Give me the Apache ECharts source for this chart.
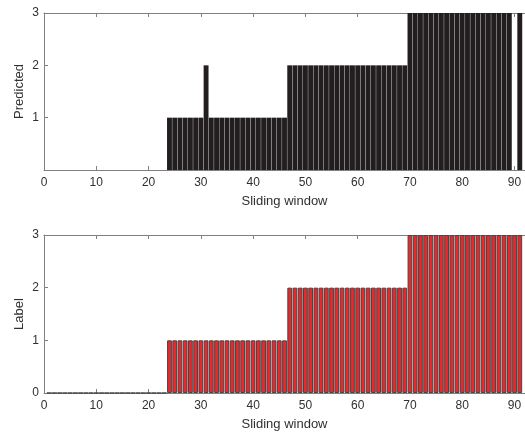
<!DOCTYPE html>
<html lang="en">
<head>
	<meta charset="UTF-8">
	<title>Predicted vs Label</title>
	<script src="https://cdn.jsdelivr.net/npm/echarts@6/dist/echarts.min.js"></script>
	<style>
		html, body { margin: 0; padding: 0; background: #fff; }
	</style>
</head>
<body>
	<div id="main" style="width: 525px;height: 433px;"></div>

	<script type="text/javascript">
		// sliding window index (x)
		var windows = [1,2,3,4,5,6,7,8,9,10,11,12,13,14,15,16,17,18,19,20,
			21,22,23,24,25,26,27,28,29,30,31,32,33,34,35,36,37,38,39,40,
			41,42,43,44,45,46,47,48,49,50,51,52,53,54,55,56,57,58,59,60,
			61,62,63,64,65,66,67,68,69,70,71,72,73,74,75,76,77,78,79,80,
			81,82,83,84,85,86,87,88,89,90,91];
		// predicted class per window
		var predicted = [0,0,0,0,0,0,0,0,0,0,0,0,0,0,0,0,0,0,0,0,
			0,0,0,1,1,1,1,1,1,1,2,1,1,1,1,1,1,1,1,1,
			1,1,1,1,1,1,2,2,2,2,2,2,2,2,2,2,2,2,2,2,
			2,2,2,2,2,2,2,2,2,3,3,3,3,3,3,3,3,3,3,3,
			3,3,3,3,3,3,3,3,3,0,3];
		// true label per window
		var label = [0,0,0,0,0,0,0,0,0,0,0,0,0,0,0,0,0,0,0,0,
			0,0,0,1,1,1,1,1,1,1,1,1,1,1,1,1,1,1,1,1,
			1,1,1,1,1,1,2,2,2,2,2,2,2,2,2,2,2,2,2,2,
			2,2,2,2,2,2,2,2,2,3,3,3,3,3,3,3,3,3,3,3,
			3,3,3,3,3,3,3,3,3,3,3];

		var axisGray = '#808080';
		var textGray = '#303030';
		var font = '"Liberation Sans", Arial, sans-serif';

		function pairs(vals) {
			var out = [];
			for (var i = 0; i < windows.length; i++) {
				out.push([windows[i], vals[i]]);
			}
			return out;
		}

		// x axis (bottom, with labels)
		function xMain(gi) {
			return {
				type: 'value', gridIndex: gi, position: 'bottom',
				min: 0, max: 92, interval: 10,
				name: 'Sliding window', nameLocation: 'middle', nameGap: 25,
				nameTextStyle: { color: textGray, fontSize: 13, fontFamily: font },
				axisLine: { show: true, onZero: false, lineStyle: { color: axisGray, width: 1 } },
				axisTick: { show: true, inside: true, length: 4, lineStyle: { color: axisGray } },
				axisLabel: { color: textGray, fontSize: 12, fontFamily: font, margin: 7, showMaxLabel: false },
				splitLine: { show: false }
			};
		}
		// frame on top
		function xTop(gi) {
			return {
				type: 'value', gridIndex: gi, position: 'top',
				min: 0, max: 92, interval: 10,
				axisLine: { show: true, onZero: false, lineStyle: { color: axisGray, width: 1 } },
				axisTick: { show: true, inside: true, length: 4, lineStyle: { color: axisGray } },
				axisLabel: { show: false },
				splitLine: { show: false }
			};
		}
		function yMain(gi, name, hideZero) {
			return {
				type: 'value', gridIndex: gi, position: 'left',
				min: 0, max: 3, interval: 1,
				name: name, nameLocation: 'middle', nameGap: 18, nameMoveOverlap: false,
				nameTextStyle: { color: textGray, fontSize: 13, fontFamily: font },
				axisLine: { show: true, onZero: false, lineStyle: { color: axisGray, width: 1 } },
				axisTick: { show: true, inside: true, length: 4, lineStyle: { color: axisGray } },
				axisLabel: { color: textGray, fontSize: 12, fontFamily: font, margin: 5, showMinLabel: !hideZero },
				splitLine: { show: false }
			};
		}
		function yRight(gi) {
			return {
				type: 'value', gridIndex: gi, position: 'right',
				min: 0, max: 3, interval: 1,
				axisLine: { show: false },
				axisTick: { show: false },
				axisLabel: { show: false },
				splitLine: { show: false }
			};
		}

		var myChart = echarts.init(document.getElementById('main'));
		myChart.setOption({
			animation: false,
			backgroundColor: '#ffffff',
			grid: [
				{ left: 44, top: 13, width: 481, height: 157 },
				{ left: 44, top: 235, width: 481, height: 158 }
			],
			xAxis: [xMain(0), xTop(0), xMain(1), xTop(1)],
			yAxis: [yMain(0, 'Predicted', true), yRight(0), yMain(1, 'Label', false), yRight(1)],
			series: [{
				name: 'Predicted',
				type: 'bar',
				xAxisIndex: 0, yAxisIndex: 0,
				barWidth: 4.9,
				itemStyle: { color: '#221e1f' },
				data: pairs(predicted)
			}, {
				name: 'Label',
				type: 'bar',
				xAxisIndex: 2, yAxisIndex: 2,
				barWidth: 4.8,
				itemStyle: { color: '#e8282b', borderColor: '#454545', borderWidth: 1 },
				data: pairs(label)
			}]
		});
	</script>
</body>
</html>
